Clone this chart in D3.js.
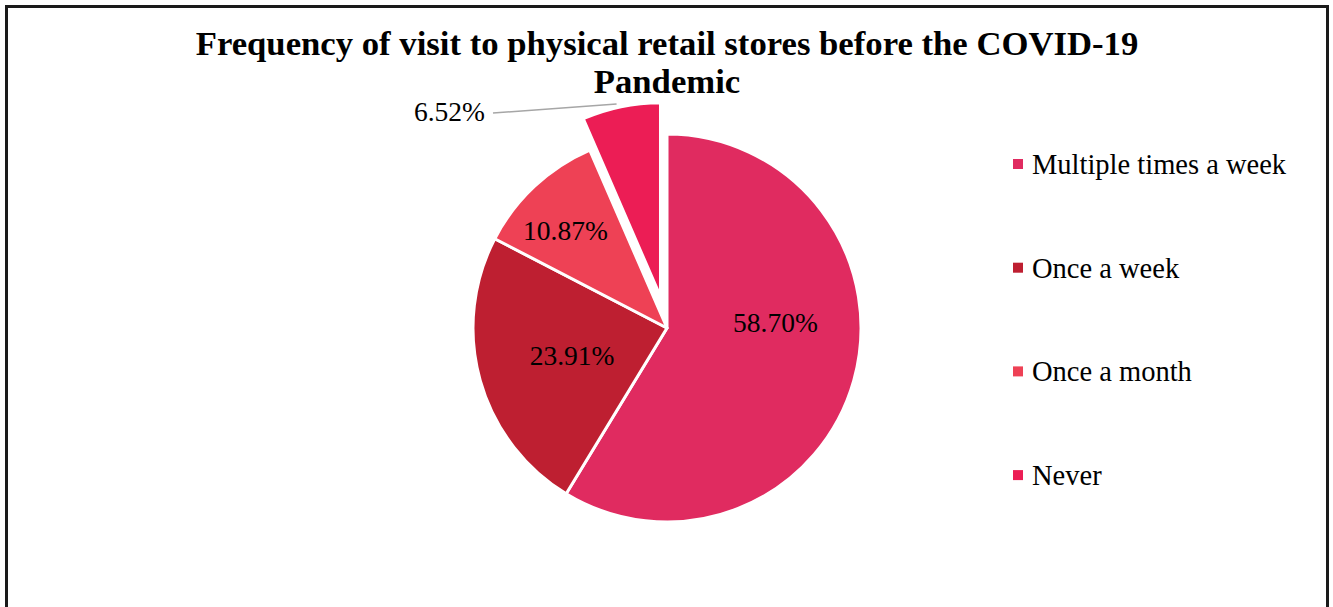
<!DOCTYPE html>
<html><head><meta charset="utf-8">
<script src="https://cdn.jsdelivr.net/npm/d3@7"></script>
<style>body{margin:0;background:#fff;} svg{display:block;}</style>
</head><body>
<svg id="chart" width="1333" height="607"></svg>
<script>
const categories = ["Multiple times a week", "Once a week", "Once a month", "Never"];
const values = [58.70, 23.91, 10.87, 6.52];
const valueLabels = ["58.70%", "23.91%", "10.87%", "6.52%"];
const colors = ["#E02B60", "#BE1F31", "#EE4155", "#EC1D55"];
const titleLines = ["Frequency of visit to physical retail stores before the COVID-19", "Pandemic"];

const W = 1333, H = 607;
const svg = d3.select("#chart");
const serif = "'Liberation Serif','Times New Roman',serif";

// frame
svg.append("rect").attr("x", 6.5).attr("y", 6.5).attr("width", 1321).attr("height", 640)
  .attr("fill", "none").attr("stroke", "#1a1a1a").attr("stroke-width", 3);

// title
const title = svg.append("text").attr("text-anchor", "middle").attr("font-family", serif)
  .attr("font-weight", "bold").attr("font-size", 34.7).attr("fill", "#000");
titleLines.forEach((t, i) => title.append("tspan").attr("x", 667).attr("y", 55 + i * 38).text(t));

// pie
const cx = 667, cy = 328, R = 194, explode = 32;
const pie = d3.pie().sort(null).value(d => d)(values);
const arc = d3.arc().innerRadius(0).outerRadius(R);
const g = svg.append("g").attr("transform", `translate(${cx},${cy})`);
const explodeIdx = 3;
function offset(d, i) {
  if (i !== explodeIdx) return [0, 0];
  const a = (d.startAngle + d.endAngle) / 2;
  return [explode * Math.sin(a), -explode * Math.cos(a)];
}
g.selectAll("path").data(pie).join("path")
  .attr("d", arc)
  .attr("transform", (d, i) => { const o = offset(d, i); return `translate(${o[0]},${o[1]})`; })
  .attr("fill", (d, i) => colors[i])
  .attr("stroke", "#fff").attr("stroke-width", 3).attr("stroke-linejoin", "round");

// data labels: polar placement (angle in degrees clockwise from 12 o'clock, radius)
const labelPlacement = [
  {ang: 87.1, rad: 108.6}, {ang: 253.6, rad: 99}, {ang: 313.8, rad: 140.7}, null
];
labelPlacement.forEach((p, i) => {
  if (!p) return;
  const a = p.ang * Math.PI / 180;
  g.append("text").attr("x", p.rad * Math.sin(a)).attr("y", -p.rad * Math.cos(a))
    .attr("dy", "0.33em").attr("text-anchor", "middle")
    .attr("font-family", serif).attr("font-size", 27.5).attr("fill", "#000")
    .text(valueLabels[i]);
});
// outside label for exploded slice with leader line
{
  const d = pie[explodeIdx];
  const o = offset(d, explodeIdx);
  const a = d.startAngle + (d.endAngle - d.startAngle) * 0.55;
  const px = o[0] + (R + 2) * Math.sin(a), py = o[1] - (R + 2) * Math.cos(a);
  const lx = -174, ly = -215;
  g.append("line").attr("x1", lx).attr("y1", ly).attr("x2", px - 8).attr("y2", py)
    .attr("stroke", "#a6a6a6").attr("stroke-width", 1.5);
  g.append("text").attr("x", lx - 8).attr("y", ly).attr("dy", "0.3em").attr("text-anchor", "end")
    .attr("font-family", serif).attr("font-size", 27.5).attr("fill", "#000")
    .text(valueLabels[explodeIdx]);
}

// legend
const legend = svg.append("g").attr("transform", "translate(1013,164)");
const rows = legend.selectAll("g").data(categories).join("g")
  .attr("transform", (d, i) => `translate(0,${i * 103.7})`);
rows.append("rect").attr("x", 0).attr("y", -5).attr("width", 10).attr("height", 10)
  .attr("fill", (d, i) => colors[i]);
rows.append("text").attr("x", 19).attr("y", 0).attr("dy", "0.35em")
  .attr("font-family", serif).attr("font-size", 28.5).attr("fill", "#000").text(d => d);
</script>
</body></html>
